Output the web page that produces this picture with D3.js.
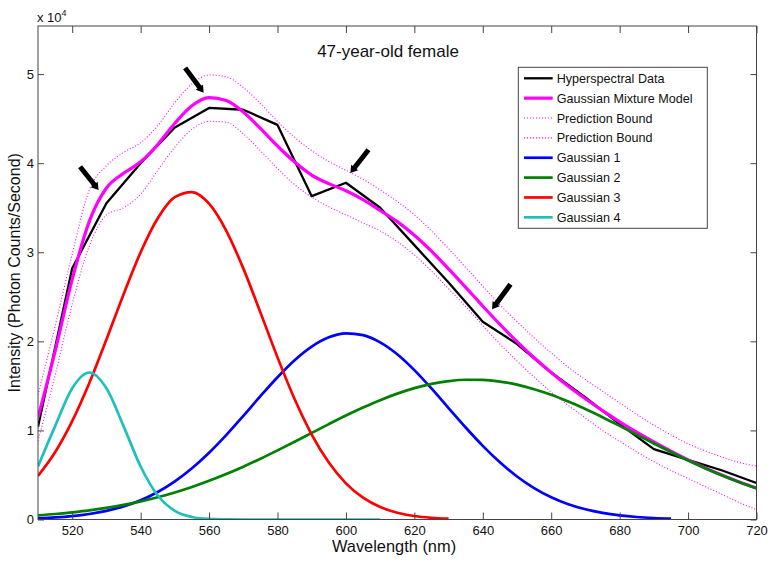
<!DOCTYPE html>
<html><head><meta charset="utf-8">
<script src="https://cdn.jsdelivr.net/npm/d3@7"></script>
<style>body{margin:0;background:#fff;} text{font-family:"Liberation Sans",Arial,sans-serif;fill:#111;}</style>
</head><body><svg id="c" width="775" height="563"></svg>
<script>
// wavelengths (nm) of the fitted curves
const wavelengths = [510,515,520,525,530,535,540,545,550,555,560,565,570,575,580,585,590,595,600,605,610,615,620,625,630,635,640,645,650,655,660,665,670,675,680,685,690,695,700,705,710,715,720];
// wavelengths of measured data
const dataWavelengths = [510,520,530,540,550,560,570,580,590,600,610,620,630,640,650,660,670,680,690,700,710,720];
// values in units of 1e4 photon counts / second
const hyperspectral = [1.04,2.82,3.55,4.00,4.40,4.62,4.60,4.43,3.63,3.78,3.50,3.08,2.66,2.22,1.97,1.65,1.37,1.07,0.79,0.67,0.55,0.41];
const gmm = [1.145,1.888,2.696,3.347,3.721,3.886,4.015,4.210,4.448,4.644,4.735,4.703,4.575,4.391,4.193,4.013,3.867,3.77,3.69,3.59,3.469,3.344,3.191,3.012,2.813,2.606,2.396,2.190,1.997,1.816,1.650,1.496,1.355,1.222,1.097,0.980,0.870,0.767,0.669,0.579,0.496,0.420,0.352];
const upperBound = [1.40,2.17,2.98,3.70,3.97,4.12,4.23,4.42,4.68,4.89,4.99,4.97,4.85,4.67,4.47,4.29,4.14,4.02,3.92,3.82,3.70,3.57,3.42,3.24,3.04,2.83,2.62,2.41,2.22,2.04,1.87,1.71,1.57,1.44,1.31,1.18,1.06,0.95,0.85,0.77,0.70,0.64,0.60];
const lowerBound = [0.88,1.62,2.42,3.07,3.42,3.50,3.65,3.92,4.18,4.38,4.47,4.46,4.33,4.14,3.94,3.76,3.62,3.51,3.42,3.33,3.24,3.12,2.97,2.79,2.59,2.39,2.18,1.97,1.78,1.60,1.43,1.28,1.14,1.00,0.88,0.76,0.65,0.55,0.46,0.37,0.28,0.19,0.11];
const gauss1 = [0.013,0.023,0.038,0.062,0.097,0.147,0.216,0.309,0.428,0.575,0.750,0.948,1.163,1.384,1.597,1.788,1.941,2.045,2.089,2.070,1.989,1.855,1.677,1.471,1.251,1.033,0.827,0.642,0.483,0.353,0.250,0.172,0.115,0.074,0.046,0.028,0.017,0.010,null,null,null,null,null];
const gauss2 = [0.047,0.062,0.081,0.103,0.131,0.164,0.204,0.250,0.304,0.365,0.434,0.510,0.593,0.682,0.776,0.873,0.972,1.071,1.167,1.257,1.340,1.413,1.475,1.522,1.553,1.569,1.567,1.548,1.514,1.463,1.400,1.324,1.240,1.148,1.051,0.952,0.853,0.757,0.663,0.576,0.494,0.419,0.352];
const gauss3 = [0.490,0.755,1.104,1.532,2.020,2.527,3.000,3.382,3.619,3.676,3.545,3.244,2.819,2.325,1.820,1.352,0.954,0.639,0.406,0.245,0.140,0.076,0.039,0.019,0.009,null,null,null,null,null,null,null,null,null,null,null,null,null,null,null,null,null,null];
const gauss4 = [0.595,1.048,1.473,1.65,1.473,1.048,0.595,0.269,0.097,0.028,0.006,0.001,0,0,0,0,0,0,0,0,0,null,null,null,null,null,null,null,null,null,null,null,null,null,null,null,null,null,null,null,null,null,null];
const xTicks = [520,540,560,580,600,620,640,660,680,700,720];
const yTicks = [0,1,2,3,4,5];
// annotation arrows: [tail nm, tail value], [tip nm, tip value]
const arrowsTail = [[522.3,3.96],[553.0,5.07],[606.6,4.15],[648.1,2.64]];
const arrowsTip  = [[527.7,3.70],[558.4,4.79],[601.3,3.89],[642.7,2.36]];
const legendLabels = ["Hyperspectral Data","Gaussian Mixture Model","Prediction Bound","Prediction Bound","Gaussian 1","Gaussian 2","Gaussian 3","Gaussian 4"];
const legendColors = ["#000000","#ff00ff","#ff00ff","#ff00ff","#0000ff","#008000","#ff0000","#1fbfbf"];

const L=38,R=756.5,T=26,B=519.5;
const svg=d3.select("#c");
const x=d3.scaleLinear().domain([510,720]).range([L,R]);
const y=d3.scaleLinear().domain([0,5.54]).range([B,T]);

svg.append("defs").append("clipPath").attr("id","clip").append("rect")
  .attr("x",L).attr("y",T).attr("width",R-L).attr("height",B-T);
const g=svg.append("g").attr("clip-path","url(#clip)");

function pairs(xs,ys){return xs.map((w,i)=>[w,ys[i]]);}
const smooth=d3.line().defined(d=>d[1]!==null).x(d=>x(d[0])).y(d=>y(d[1])).curve(d3.curveMonotoneX);
const linear=d3.line().x(d=>x(d[0])).y(d=>y(d[1]));

g.append("path").attr("d",linear(pairs(dataWavelengths,hyperspectral))).attr("fill","none").attr("stroke","#000").attr("stroke-width",2.3).attr("stroke-linejoin","round");
g.append("path").attr("d",smooth(pairs(wavelengths,gmm))).attr("fill","none").attr("stroke","#ff00ff").attr("stroke-width",3.2);
[upperBound,lowerBound].forEach(b=>{
  g.append("path").attr("d",smooth(pairs(wavelengths,b))).attr("fill","none").attr("stroke","#ff00ff").attr("stroke-width",1.1).attr("stroke-dasharray","1,2");
});
[[gauss1,"#0000ff"],[gauss2,"#008000"],[gauss3,"#ff0000"],[gauss4,"#1fbfbf"]].forEach(([s,c])=>{
  g.append("path").attr("d",smooth(pairs(wavelengths,s))).attr("fill","none").attr("stroke",c).attr("stroke-width",2.7);
});

// arrows
arrowsTail.forEach((t,i)=>{
  const x0=x(t[0]),y0=y(t[1]),x1=x(arrowsTip[i][0]),y1=y(arrowsTip[i][1]);
  const dx=x1-x0,dy=y1-y0,len=Math.hypot(dx,dy),ux=dx/len,uy=dy/len,px=-uy,py=ux;
  const hl=7,hw=4.5;
  const bx=x1-ux*hl,by=y1-uy*hl;
  svg.append("line").attr("x1",x0).attr("y1",y0).attr("x2",bx+ux*1).attr("y2",by+uy*1)
    .attr("stroke","#000").attr("stroke-width",5);
  svg.append("path").attr("d",`M${x1},${y1}L${bx+px*hw},${by+py*hw}L${bx-px*hw},${by-py*hw}Z`).attr("fill","#000");
});

// axes
const axCol="#444";
const xb=svg.append("g").attr("transform",`translate(0,${B})`)
  .call(d3.axisBottom(x).tickValues(xTicks).tickSizeInner(-7).tickSizeOuter(0).tickPadding(6));
const yl=svg.append("g").attr("transform",`translate(${L},0)`)
  .call(d3.axisLeft(y).tickValues(yTicks).tickSizeInner(-6).tickSizeOuter(0).tickPadding(4).tickFormat(d3.format("d")));
const xt=svg.append("g").attr("transform",`translate(0,${T})`)
  .call(d3.axisTop(x).tickValues(xTicks).tickSizeInner(-7).tickSizeOuter(0).tickFormat(""));
const yr=svg.append("g").attr("transform",`translate(${R},0)`)
  .call(d3.axisRight(y).tickValues(yTicks).tickSizeInner(-6).tickSizeOuter(0).tickFormat(""));
[xb,yl,xt,yr].forEach(a=>{a.select(".domain").remove();a.selectAll("line").attr("stroke",axCol);
  a.selectAll("text").attr("font-size",13).attr("fill","#111").attr("font-family","Liberation Sans, Arial, sans-serif");});
svg.append("rect").attr("x",L).attr("y",T).attr("width",R-L).attr("height",B-T).attr("fill","none").attr("stroke",axCol).attr("stroke-width",1);

// exponent label
const ex=svg.append("text").attr("x",37).attr("y",22).attr("font-size",13);
ex.append("tspan").text("x 10");
ex.append("tspan").attr("font-size",9).attr("dy",-6).text("4");

// axis titles
svg.append("text").attr("x",394).attr("y",552).attr("text-anchor","middle").attr("font-size",16.4).text("Wavelength (nm)");
svg.append("text").attr("transform",`translate(20,${(T+B)/2}) rotate(-90)`).attr("text-anchor","middle").attr("font-size",16).text("Intensity (Photon Counts/Second)");
svg.append("text").attr("x",388).attr("y",57).attr("text-anchor","middle").attr("font-size",17).text("47-year-old female");

// legend
const lg=svg.append("g");
lg.append("rect").attr("x",518.3).attr("y",67.3).attr("width",189).attr("height",161).attr("fill","#fff").attr("stroke",axCol).attr("stroke-width",1);
legendLabels.forEach((lab,i)=>{
  const yy=78.3+i*19.86;
  const dotted=(i===2||i===3);
  lg.append("line").attr("x1",524).attr("x2",552.7).attr("y1",yy).attr("y2",yy)
    .attr("stroke",legendColors[i]).attr("stroke-width",dotted?1.1:(i===1?3.2:(i===0?2.3:2.7)))
    .attr("stroke-dasharray",dotted?"1,2":null);
  lg.append("text").attr("x",556.7).attr("y",yy+4.6).attr("font-size",12.6).text(lab);
});
</script></body></html>
